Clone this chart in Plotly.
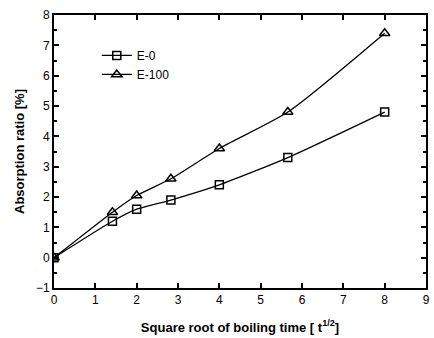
import plotly.graph_objects as go

x_vals = [0, 1.414, 2, 2.828, 4, 5.657, 8]
e0 = [0, 1.2, 1.6, 1.9, 2.4, 3.3, 4.8]
e100 = [0, 1.5, 2.05, 2.6, 3.6, 4.8, 7.4]
names = ["E-0", "E-100"]

fig = go.Figure()
fig.add_trace(go.Scatter(x=x_vals, y=e0, name=names[0], mode="lines+markers",
                         line=dict(color="black", width=1.3, shape="spline", smoothing=0.6),
                         marker=dict(symbol="square-open", size=8, color="black", line=dict(width=1.5))))
fig.add_trace(go.Scatter(x=x_vals, y=e100, name=names[1], mode="lines+markers",
                         line=dict(color="black", width=1.3, shape="spline", smoothing=0.6),
                         marker=dict(symbol="triangle-up-open", size=9, color="black", line=dict(width=1.5))))

ff = "Liberation Sans, Arial, sans-serif"
fig.update_layout(
    width=434, height=338,
    margin=dict(l=54, r=4, t=15, b=50),
    paper_bgcolor="white", plot_bgcolor="white",
    font=dict(family=ff, size=12, color="black"),
    showlegend=True,
    legend=dict(x=0.115, y=0.905, xanchor="left", yanchor="top", bgcolor="rgba(0,0,0,0)",
                font=dict(family=ff, size=12, color="black"),
                itemwidth=30, tracegroupgap=0),
)
fig.update_xaxes(range=[0, 9], dtick=1, tick0=0, showgrid=False, zeroline=False,
                 showline=True, linecolor="black", linewidth=2, mirror="ticks",
                 ticks="inside", ticklen=5, tickwidth=1.5, tickcolor="black",
                 tickfont=dict(family=ff, size=12, color="black"),
                 title=dict(text="<b>Square root of boiling time [ t<sup>1/2</sup>]</b>", standoff=16,
                            font=dict(family=ff, size=13, color="black")))
fig.update_yaxes(range=[-1, 8], dtick=1, tick0=0, showgrid=False, zeroline=False,
                 showline=True, linecolor="black", linewidth=2, mirror="ticks",
                 ticks="inside", ticklen=5, tickwidth=1.5, tickcolor="black",
                 minor=dict(dtick=0.5, ticks="inside", ticklen=3, tickcolor="black", showgrid=False),
                 tickfont=dict(family=ff, size=12, color="black"),
                 title=dict(text="<b>Absorption ratio [%]</b>", standoff=8,
                            font=dict(family=ff, size=13, color="black")))

fig.write_html("out.html")
